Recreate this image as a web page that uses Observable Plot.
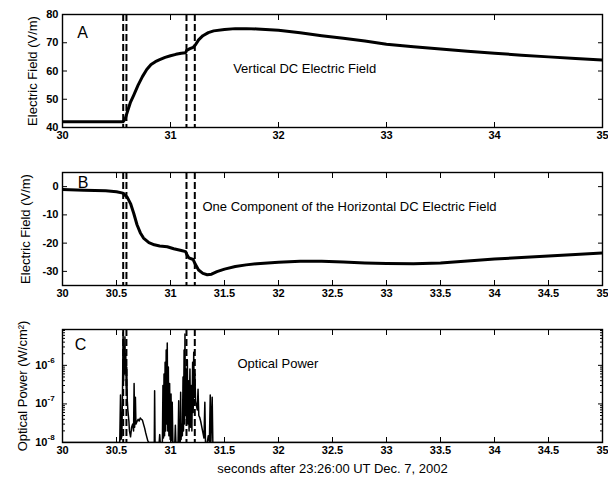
<!DOCTYPE html>
<html><head><meta charset="utf-8">
<script src="https://cdn.jsdelivr.net/npm/d3@7"></script>
<script src="https://cdn.jsdelivr.net/npm/@observablehq/plot@0.6"></script>
<style>
html,body{margin:0;padding:0;background:#fff;}
#chart{width:608px;height:479px;}
#chart svg{display:block;}
</style>
</head><body><div id="chart"></div>
<script>
const FONT = '"Liberation Sans", Arial, Helvetica, sans-serif';

// tick values
const xTicksA = [30, 31, 32, 33, 34, 35];
const xTicksBC = [30, 30.5, 31, 31.5, 32, 32.5, 33, 33.5, 34, 34.5, 35];
const yTicksA = [40, 50, 60, 70, 80];
const yTicksB = [-30, -20, -10, 0];
const yTicksC = [1e-8, 1e-7, 1e-6];
const yMinorC = [2e-8,3e-8,4e-8,5e-8,6e-8,7e-8,8e-8,9e-8,2e-7,3e-7,4e-7,5e-7,6e-7,7e-7,8e-7,9e-7,2e-6,3e-6,4e-6,5e-6,6e-6,7e-6,8e-6];

// event markers (dashed lines), seconds
const eventTimes = [30.562, 30.592, 31.148, 31.225];

// panel texts
const panelLetters = ["A", "B", "C"];
const panelTitles = ["Vertical DC Electric Field", "One Component of the Horizontal DC Electric Field", "Optical Power"];
const yLabels = ["Electric Field (V/m)", "Electric Field (V/m)", "Optical Power (W/cm²)"];
const xLabel = "seconds after 23:26:00 UT Dec. 7, 2002";

// annotation positions in data units [x, y]
const letterPos = [[30.185, 73.6], [30.19, 1.3], [30.167, 3.3e-6]];
const titlePos = [[31.58, 60.9], [31.296, -7.2], [31.62, 1.12e-6]];

// A: vertical DC electric field (V/m)
const verticalField = [
  [30.00,42],[30.56,42],[30.58,43],[30.60,45.5],[30.63,49],[30.66,51.5],[30.70,55],[30.74,58],
  [30.78,60.5],[30.82,62.3],[30.86,63.3],[30.90,64],[30.95,64.8],[31.00,65.4],[31.05,65.9],
  [31.10,66.3],[31.14,66.5],[31.15,67.3],[31.18,67.9],[31.21,68.4],[31.23,69.2],[31.26,71],
  [31.30,72.5],[31.35,73.6],[31.40,74.2],[31.50,74.7],[31.60,75],[31.70,75],[31.80,74.9],
  [32.00,74.4],[32.20,73.5],[32.40,72.5],[32.60,71.6],[32.80,70.6],[33.00,69.5],[33.25,68.6],
  [33.50,67.8],[33.75,67],[34.00,66.3],[34.25,65.6],[34.50,65],[34.75,64.4],[35.00,63.9]
];

// B: one horizontal component (V/m)
const horizontalField = [
  [30.00,-1.0],[30.20,-1.3],[30.40,-1.5],[30.50,-1.8],[30.56,-2.3],[30.60,-3.8],[30.63,-6],
  [30.66,-9.5],[30.69,-13.5],[30.72,-16.3],[30.75,-18.2],[30.80,-19.8],[30.85,-20.6],[30.90,-21],
  [30.97,-21.3],[31.03,-22],[31.10,-22.6],[31.14,-23],[31.155,-24.3],[31.17,-25.2],[31.21,-25.8],
  [31.23,-27.5],[31.26,-29.5],[31.30,-30.7],[31.34,-31.2],[31.38,-31],[31.43,-30.1],[31.50,-29.2],
  [31.60,-28.3],[31.70,-27.7],[31.80,-27.3],[31.90,-27],[32.00,-26.8],[32.20,-26.4],[32.40,-26.4],
  [32.60,-26.7],[32.80,-27],[33.00,-27.2],[33.25,-27.3],[33.50,-27],[33.75,-26.3],[34.00,-25.6],
  [34.25,-25.1],[34.50,-24.6],[34.75,-24],[35.00,-23.5]
];

// C: optical power (W/cm^2)
const opticalPower = [
  [30.00,1.0e-8],[30.53,1.0e-8],[30.537,1.7e-7],[30.542,1.2e-8],[30.55,1.5e-8],[30.556,2.5e-7],
  [30.561,7.0e-6],[30.566,4.0e-7],[30.570,3.0e-6],[30.574,6.0e-7],[30.578,5.5e-6],[30.582,8.0e-7],
  [30.586,2.0e-6],[30.590,2.5e-7],[30.595,9.0e-7],[30.600,1.2e-7],[30.605,7.0e-8],[30.610,5.0e-8],
  [30.615,3.5e-8],[30.620,2.0e-8],[30.630,1.4e-8],[30.640,2.5e-8],[30.650,3.0e-8],[30.658,2.0e-8],
  [30.663,3.4e-7],[30.668,2.5e-8],[30.675,1.5e-7],[30.680,3.0e-8],[30.69,3.5e-8],[30.70,4.0e-8],
  [30.71,3.6e-8],[30.72,4.3e-8],[30.73,4.0e-8],[30.74,3.8e-8],[30.75,3.0e-8],[30.76,2.4e-8],
  [30.77,1.8e-8],[30.78,1.4e-8],[30.79,1.1e-8],[30.80,1.0e-8],[30.850,1.0e-8],[30.853,2.2e-7],
  [30.857,1.0e-8],[30.895,1.0e-8],[30.900,1.6e-8],[30.905,1.0e-8],[30.925,1.0e-8],[30.930,3.0e-7],
  [30.935,1.3e-8],[30.940,6.0e-7],[30.945,1.5e-8],[30.950,1.2e-6],[30.955,2.0e-8],[30.960,2.5e-6],
  [30.965,3.0e-8],[30.970,3.8e-6],[30.975,2.0e-8],[30.980,9.0e-7],[30.985,1.5e-8],[30.992,3.4e-7],
  [30.997,1.2e-8],[31.005,1.8e-7],[31.010,1.1e-8],[31.016,1.1e-7],[31.022,1.0e-8],[31.040,1.0e-8],
  [31.045,2.8e-8],[31.050,1.0e-8],[31.070,1.0e-8],[31.076,1.2e-7],[31.080,1.0e-8],[31.090,1.0e-8],
  [31.094,2.0e-7],[31.098,1.2e-8],[31.105,3.0e-8],[31.110,1.5e-8],[31.116,5.0e-7],[31.120,2.0e-8],
  [31.126,2.5e-6],[31.130,3.0e-8],[31.134,6.5e-6],[31.138,5.0e-8],[31.144,8.0e-7],[31.150,4.0e-8],
  [31.156,1.4e-6],[31.160,3.0e-8],[31.166,4.0e-7],[31.172,2.0e-8],[31.180,8.0e-7],[31.186,2.5e-8],
  [31.192,3.0e-7],[31.198,2.0e-8],[31.205,1.2e-6],[31.210,6.0e-8],[31.215,2.2e-6],[31.220,1.5e-7],
  [31.226,6.0e-7],[31.232,1.2e-7],[31.240,9.0e-8],[31.248,7.0e-8],[31.255,2.4e-7],[31.262,5.0e-8],
  [31.270,4.5e-8],[31.280,3.5e-8],[31.290,2.5e-8],[31.300,1.8e-8],[31.310,1.3e-8],[31.318,1.1e-7],
  [31.324,1.0e-8],[31.340,1.0e-8],[31.350,1.5e-8],[31.360,1.0e-8],[31.368,1.7e-7],[31.374,1.0e-8],
  [31.386,1.5e-7],[31.392,1.0e-8],[35.00,1.0e-8]
];

const numFmt = d => String(d);
const expFmt = d => String(Math.round(Math.log10(d)));

function panel(o) {
  const i = o.index;
  const marks = [
    Plot.ruleX(eventTimes, {strokeWidth: 2, strokeDasharray: "7,3"}),
    Plot.line(o.data, {x: d => d[0], y: d => d[1], strokeWidth: o.lineWidth, clip: true, strokeLinejoin: "round"}),
    Plot.frame({strokeWidth: 1.4}),
    // inward ticks on all four sides
    Plot.axisX({anchor: "bottom", ticks: o.xTicks, tickSize: 5, dy: -5, fill: "none", label: null}),
    Plot.axisX({anchor: "top", ticks: o.xTicks, tickSize: 5, dy: 5, fill: "none", label: null}),
    Plot.axisY({anchor: "left", ticks: o.yTicks, tickSize: 5, dx: 5, fill: "none", label: null}),
    Plot.axisY({anchor: "right", ticks: o.yTicks, tickSize: 5, dx: -5, fill: "none", label: null}),
    // tick labels
    Plot.axisX({anchor: "bottom", ticks: o.xTicks, tickSize: 0, tickPadding: 4, tickFormat: numFmt, fontSize: 11, fontWeight: "bold", label: null}),
    // y label
    Plot.text([yLabels[i]], {frameAnchor: "left", rotate: -90, dx: o.labelDx, fontSize: 13, textAnchor: "middle", lineAnchor: "middle"}),
    // letter and title
    Plot.text([letterPos[i]], {x: d => d[0], y: d => d[1], text: () => panelLetters[i], fontSize: 16, textAnchor: "middle", lineAnchor: "middle"}),
    Plot.text([titlePos[i]], {x: d => d[0], y: d => d[1], text: () => panelTitles[i], fontSize: 13, textAnchor: "start", lineAnchor: "middle"})
  ];
  if (o.log) {
    marks.push(Plot.axisY({anchor: "left", ticks: o.yTicks, tickSize: 0, tickPadding: 15, tickFormat: () => "10", fontSize: 11, fontWeight: "bold", label: null}));
    marks.push(Plot.text(o.yTicks, {y: d => d, frameAnchor: "left", text: expFmt, dx: -15, dy: -5, fontSize: 8, fontWeight: "bold", textAnchor: "start", lineAnchor: "middle"}));
    marks.push(Plot.axisY({anchor: "left", ticks: o.yMinor, tickSize: 3, dx: 3, fill: "none", label: null}));
    marks.push(Plot.axisY({anchor: "right", ticks: o.yMinor, tickSize: 3, dx: -3, fill: "none", label: null}));
  } else {
    marks.push(Plot.axisY({anchor: "left", ticks: o.yTicks, tickSize: 0, tickPadding: 4, tickFormat: numFmt, fontSize: 11, fontWeight: "bold", label: null}));
  }
  if (o.xLabel) {
    marks.push(Plot.text([o.xLabel], {frameAnchor: "bottom", dy: 26, fontSize: 13, textAnchor: "middle", lineAnchor: "middle"}));
  }
  return Plot.plot({
    width: 608, height: o.height,
    marginTop: o.mt, marginBottom: o.mb, marginLeft: 62, marginRight: 6,
    style: {fontFamily: FONT, fontSize: "11px", background: "#fff", color: "#000", overflow: "visible"},
    x: {domain: [30, 35]},
    y: o.y,
    marks
  });
}

const chart = document.getElementById("chart");
chart.appendChild(panel({index: 0, data: verticalField, height: 150, mt: 14, mb: 23,
  y: {domain: [40, 80]}, xTicks: xTicksA, yTicks: yTicksA, labelDx: -30, lineWidth: 3}));
chart.appendChild(panel({index: 1, data: horizontalField, height: 150, mt: 22, mb: 15,
  y: {domain: [-35, 5]}, xTicks: xTicksBC, yTicks: yTicksB, labelDx: -37, lineWidth: 3}));
chart.appendChild(panel({index: 2, data: opticalPower, height: 179, mt: 29, mb: 37,
  y: {type: "log", domain: [1e-8, 8.5e-6]}, log: true, xTicks: xTicksBC, yTicks: yTicksC, yMinor: yMinorC,
  labelDx: -40, lineWidth: 1.5, xLabel}));
</script></body></html>
